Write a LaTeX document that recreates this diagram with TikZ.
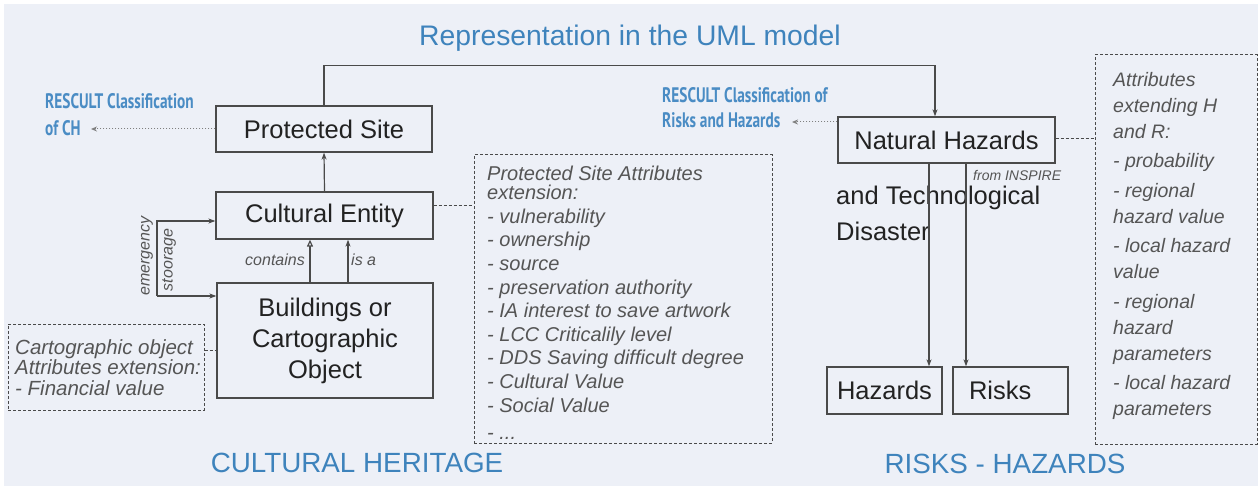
\documentclass[tikz,border=0pt]{standalone}
\usepackage{fontspec}
\setmainfont{Liberation Sans}
\newfontfamily\condfont[FakeStretch=0.73]{PT Sans Bold}
\usetikzlibrary{arrows.meta}
\definecolor{bg}{HTML}{EDF0F7}
\definecolor{ttl}{HTML}{3E83BC}
\definecolor{rsc}{HTML}{4A8CC4}
\definecolor{ink}{HTML}{222222}
\definecolor{lin}{HTML}{4A4A4A}
\definecolor{itx}{HTML}{555555}
\tikzset{
  box/.style={draw=lin, line width=1.3pt, inner sep=0pt, text=ink, font=\fontsize{25.5}{31}\selectfont},
  dbox/.style={draw=lin, line width=1pt, dash pattern=on 3pt off 2pt, inner sep=0pt},
  conn/.style={draw=lin, line width=1.2pt},
  arr/.style={conn, -{Stealth[length=7pt,width=5pt]}},
  openarr/.style={conn, -{Triangle[open,length=7pt,width=6pt,fill=bg]}},
  dlink/.style={draw=lin, line width=1pt, dash pattern=on 3pt off 2pt},
  dotarr/.style={draw=gray, line width=1pt, dotted, -{Stealth[length=6pt,width=5pt]}},
  attr/.style={inner sep=0pt, text=itx, align=left, font=\fontsize{20}{23.6}\selectfont\itshape},
  rescult/.style={inner sep=0pt, text=rsc, align=left, font=\fontsize{21}{27}\condfont},
  bigttl/.style={inner sep=0pt, text=ttl}
}
\begin{document}
\begin{tikzpicture}[x=1pt,y=-1pt]
\useasboundingbox (0,0) rectangle (1258,486);
\fill[white] (0,0) rectangle (1258,486);
\fill[bg] (4,4) rectangle (1258,486);

% title
\node[bigttl, font=\fontsize{28.3}{32}\selectfont] (title) at (630,38) {Representation in the UML model};

% cultural heritage side
\node[box, minimum width=216, minimum height=46] (ps) at (324,129) {Protected Site};
\node[box, minimum width=217, minimum height=47] (ce) at (324.5,215.5) {Cultural Entity};
\node[box, minimum width=216, minimum height=115, align=center] (bo) at (325,340.5) {Buildings or\\Cartographic\\Object};

\node[rescult, anchor=north west] (rcch) at (45,93) {RESCULT Classification\\of CH};
\coordinate (rcchtip) at (91,129);
\draw[dotarr] (ps.west |- rcchtip) -- (rcchtip);

\draw[arr] (ce.north) -- (ps.south);
\draw[openarr] ([xshift=-15pt]bo.north) -- ([xshift=-15pt]bo.north |- ce.south);
\draw[arr] ([xshift=23pt]bo.north) -- ([xshift=23pt]bo.north |- ce.south);
\node[inner sep=0pt, text=itx, font=\fontsize{16}{18}\selectfont\itshape, anchor=east] (contains) at (305,260) {contains};
\node[inner sep=0pt, text=itx, font=\fontsize{16}{18}\selectfont\itshape, anchor=west] (isa) at (351,260) {is a};

\coordinate (eb) at (157,221);
\coordinate (ebl) at (157,296);
\draw[arr] (ebl) -- (eb) -- (eb -| ce.west);
\draw[arr] (ebl) -- (ebl -| bo.west);
\node[inner sep=0pt, text=itx, font=\fontsize{16}{18}\selectfont\itshape, rotate=90] (emerg) at (147,256) {emergency};
\node[inner sep=0pt, text=itx, font=\fontsize{16}{18}\selectfont\itshape, rotate=90] (stoor) at (169,260) {stoorage};

\node[dbox, minimum width=196, minimum height=86] (lbox) at (106,367) {};
\node[attr, anchor=north west, font=\fontsize{20.5}{20.5}\selectfont\itshape] (ltext) at (15,339) {Cartographic object\\Attributes extension:\\- Financial value};
\draw[dlink] (lbox.east |- 0,350) -- (bo.west |- 0,350);

\node[dbox, minimum width=298, minimum height=288] (mbox) at (623,299) {};
\node[attr, anchor=north west] (mtext) at (487,166) {Protected Site Attributes\\[-4.6pt]extension:\\- vulnerability\\- ownership\\- source\\- preservation authority\\- IA interest to save artwork\\- LCC Criticalily level\\- DDS Saving difficult degree\\- Cultural Value\\- Social Value\\[4pt]- ...};
\draw[dlink] (ce.east |- 0,206) -- (mbox.west |- 0,206);

\node[bigttl, font=\fontsize{27.8}{30}\selectfont] (chlabel) at (357,463) {CULTURAL HERITAGE};

% risks side
\node[box, minimum width=217, minimum height=46] (nh) at (946.5,140) {Natural Hazards};
\draw[arr] (ps.north) -- ++(0,-40) -| ([xshift=-11.5pt]nh.north);

\node[rescult, anchor=north west, font=\fontsize{21}{25}\condfont] (rcrh) at (662,87) {RESCULT Classification of\\Risks and Hazards};
\coordinate (rcrhtip) at (792,122);
\draw[dotarr] (nh.west |- rcrhtip) -- (rcrhtip);

\node[inner sep=0pt, text=itx, font=\fontsize{14}{16}\selectfont\itshape, anchor=west] (inspire) at (973,175) {from INSPIRE};
\node[inner sep=0pt, text=ink, align=left, anchor=north west, font=\fontsize{25.5}{36}\selectfont] (techdis) at (836,186) {and Technological\\Disaster};

\node[box, minimum width=115, minimum height=47] (hz) at (884.5,390.5) {Hazards};
\node[box, minimum width=115, minimum height=47, text width=83, align=left, inner xsep=16pt] (rk) at (1010.5,390.5) {Risks};
\draw[arr] (nh.south -| 929,0) -- (hz.north -| 929,0);
\draw[arr] (nh.south -| 966,0) -- (rk.north -| 966,0);

\node[dbox, minimum width=162, minimum height=389] (rbox) at (1176,249.5) {};
\node[attr, anchor=north west, font=\fontsize{19.5}{26}\selectfont\itshape] (rtext) at (1113,72) {Attributes\\extending H\\and R:\\[3.5pt]- probability\\[3.5pt]- regional\\hazard value\\[3.5pt]- local hazard\\value\\[3.5pt]- regional\\hazard\\parameters\\[3.5pt]- local hazard\\parameters};
\draw[dlink] (nh.east |- 0,139) -- (rbox.west |- 0,139);

\node[bigttl, font=\fontsize{27.8}{30}\selectfont] (rhlabel) at (1005,464) {RISKS - HAZARDS};
\end{tikzpicture}
\end{document}
